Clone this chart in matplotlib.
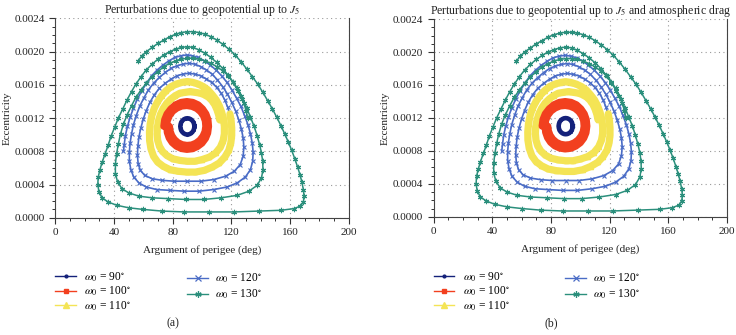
import numpy as np
import matplotlib
matplotlib.use('Agg')
import matplotlib.pyplot as plt
from matplotlib.lines import Line2D
from matplotlib.ticker import MultipleLocator

plt.rcParams['font.family'] = ['Liberation Serif', 'DejaVu Serif']
plt.rcParams['mathtext.fontset'] = 'stix'

# Trayectorias (argumento del perigeo en grados, excentricidad)
w90_arg = [94.8, 94.6, 94.2, 93.4, 92.4, 91.2, 90.0, 88.8, 87.6, 86.6, 85.8, 85.4, 85.2,
           85.4, 85.8, 86.6, 87.6, 88.8, 90.0, 91.2, 92.4, 93.4, 94.2, 94.6, 94.8]
w90_ecc = [0.00110, 0.001125, 0.001149, 0.001169, 0.001185, 0.001195, 0.001198, 0.001195,
           0.001185, 0.001169, 0.001149, 0.001125, 0.00110, 0.001075, 0.001051, 0.001031,
           0.001015, 0.001005, 0.001002, 0.001005, 0.001015, 0.001031, 0.001051, 0.001075,
           0.00110]

w100_arg = [73.9, 74.5, 76.1, 78.7, 81.9, 85.7, 89.7, 93.7, 97.4, 100.4, 102.7, 104.1, 104.5,
            103.9, 102.4, 100.0, 96.9, 93.5, 89.7, 86.0, 82.6, 79.7, 77.6, 76.3, 75.9,
            76.4, 77.8, 80.0, 82.9, 86.2, 89.7, 93.2, 96.4, 99.0, 101.0, 102.2, 102.5,
            102.0, 100.6, 98.5, 95.9, 92.9, 89.7, 86.5, 83.6, 81.2, 79.4, 78.3, 77.9]
w100_ecc = [0.00110, 0.00118, 0.00125, 0.00131, 0.00136, 0.00139, 0.00140, 0.00139, 0.00136,
            0.00131, 0.00125, 0.00118, 0.00110, 0.00102, 0.000955, 0.000898, 0.000857,
            0.00083, 0.000822, 0.000832, 0.00086, 0.000904, 0.00096, 0.001026, 0.00110,
            0.001168, 0.00123, 0.001282, 0.00132, 0.001344, 0.00135, 0.00134, 0.001315,
            0.001276, 0.001225, 0.001165, 0.00110, 0.001038, 0.000982, 0.000934, 0.000899,
            0.000877, 0.000872, 0.000881, 0.000905, 0.000943, 0.00099, 0.001044, 0.00110]

w110_arg = [112, 111.3, 110.2, 108.7, 106.8, 104.5, 101.8, 98.8, 95.5, 92, 88.5, 85, 81.8,
            78.8, 76, 73.7, 71.8, 70.4, 69.6, 69.4, 69.8, 71, 73, 76, 80, 85, 90, 95, 100,
            105, 109.3, 112.5, 114.4, 115.2, 115.2, 114.6, 113.4, 111.7, 109.6, 107, 104,
            100.8, 97.3, 93.7, 90, 86.3, 82.6, 79, 75.6, 72.5, 69.8, 67.5, 65.8, 64.7, 64.2,
            64.3, 65.2, 67, 69.8, 73.5, 78, 83.5, 89.5, 95.5, 101.5, 107, 111.8, 115.5,
            118.2, 119.6, 120.2, 120.2, 119.8, 119]
w110_ecc = [0.00118, 0.00124, 0.00130, 0.00136, 0.00141, 0.00145, 0.00148, 0.00150, 0.00151,
            0.00152, 0.00151, 0.00150, 0.00147, 0.00143, 0.00138, 0.00132, 0.00125, 0.00117,
            0.00109, 0.00101, 0.00093, 0.00086, 0.00080, 0.00075, 0.00071, 0.00069, 0.00068,
            0.00068, 0.00070, 0.00073, 0.00078, 0.00085, 0.00093, 0.00101, 0.00110, 0.00119,
            0.00127, 0.00135, 0.00142, 0.00148, 0.00154, 0.00158, 0.00161, 0.00163, 0.00164,
            0.00163, 0.00161, 0.00158, 0.00153, 0.00147, 0.00140, 0.00132, 0.00123, 0.00113,
            0.00103, 0.00093, 0.00083, 0.00074, 0.00067, 0.00062, 0.00058, 0.00056, 0.00055,
            0.00055, 0.00057, 0.00061, 0.00066, 0.00073, 0.00081, 0.00090, 0.00099, 0.00108,
            0.00117, 0.00125]

w120_arg = [120, 119, 117.5, 115.5, 113, 110, 106.5, 103, 99, 95, 91, 87, 83, 79, 75, 71,
            67.5, 64.5, 62, 60, 58.3, 57, 56.3, 56, 56.5, 58, 61, 66, 73, 81, 90, 99, 108,
            116, 122, 126, 128, 128.5, 128, 126.8, 125, 122.8, 120.2, 117.3, 114, 110.5,
            106.8, 103, 99, 95, 91, 87, 83, 79, 75, 71, 67, 63.5, 60.3, 57.5, 55.2, 53.3,
            52, 51, 50.5, 50.5, 51.5, 53.5, 57, 62, 69, 78, 88, 98, 108, 117, 124, 129.5,
            133, 134.5, 134.8, 134.2, 133, 131.3, 129, 126.5, 123.5, 120.3, 117, 113.3,
            109.5, 105.5, 101.5, 97.5, 93.5, 89.5, 85.5, 81.5, 77.5, 73.5, 69.5, 65.7, 62.2,
            59, 56, 53.3, 51, 49.2, 47.8, 47, 46.5]
w120_ecc = [0.00115, 0.00124, 0.00133, 0.00142, 0.00150, 0.00157, 0.00163, 0.00167, 0.00171,
            0.00173, 0.00174, 0.00173, 0.00171, 0.00167, 0.00162, 0.00156, 0.00148, 0.00139,
            0.00129, 0.00119, 0.00108, 0.00097, 0.00086, 0.00075, 0.00065, 0.00057, 0.00051,
            0.00047, 0.00045, 0.00044, 0.00044, 0.00044, 0.00046, 0.00050, 0.00056, 0.00064,
            0.00074, 0.00085, 0.00096, 0.00107, 0.00118, 0.00129, 0.00139, 0.00149, 0.00158,
            0.00166, 0.00173, 0.00178, 0.00182, 0.00185, 0.00186, 0.00185, 0.00183, 0.00180,
            0.00175, 0.00169, 0.00162, 0.00154, 0.00144, 0.00134, 0.00123, 0.00112, 0.00101,
            0.00090, 0.00079, 0.00068, 0.00058, 0.00049, 0.00042, 0.00037, 0.00034, 0.00033,
            0.00032, 0.00032, 0.00034, 0.00037, 0.00042, 0.00049, 0.00058, 0.00068, 0.00079,
            0.00090, 0.00101, 0.00112, 0.00123, 0.00134, 0.00144, 0.00154, 0.00163, 0.00171,
            0.00178, 0.00184, 0.00189, 0.00193, 0.00195, 0.00196, 0.00195, 0.00193, 0.00189,
            0.00184, 0.00178, 0.00171, 0.00162, 0.00153, 0.00143, 0.00132, 0.00121, 0.00110,
            0.00099, 0.00088, 0.00080]

w130_arg = [131, 130, 128.5, 126.5, 124, 121, 118, 114, 110, 106, 102, 98, 94, 90, 86, 82,
            78, 74, 70, 66, 62, 58.5, 55, 52, 49, 46.5, 44.5, 43, 41.8, 41, 41, 42.5, 45.5,
            50, 57, 66, 77, 89, 101, 113, 124, 132, 137.5, 140.5, 141.5, 141.3, 140.5,
            139.2, 137.5, 135.5, 133, 130.5, 127.5, 124.5, 121, 117.5, 114, 110, 106, 102,
            98, 94, 90, 86, 82, 78, 74, 70, 66, 62, 58.5, 55, 52, 49, 46, 43, 40.5, 38, 36,
            34, 32, 30.5, 29.3, 29, 29.8, 32, 36, 42, 50, 60, 73, 88, 105, 122, 139, 154,
            162.5, 167, 169, 169.5, 169, 168, 166.7, 165.1, 163.2, 161.1, 158.8, 156.3,
            153.7, 150.9, 147.9, 144.7, 141.4, 137.9, 134.2, 130.5, 126.5, 122.5, 118.3, 114,
            110, 106, 102, 98, 94, 90, 86, 82, 78, 74, 70, 66, 62, 59, 56.5]
w130_ecc = [0.00120, 0.00129, 0.00138, 0.00147, 0.00156, 0.00164, 0.00171, 0.00177, 0.00182,
            0.00186, 0.00189, 0.00191, 0.00192, 0.00192, 0.00191, 0.00189, 0.00186, 0.00182,
            0.00176, 0.00170, 0.00162, 0.00154, 0.00145, 0.00135, 0.00124, 0.00113, 0.00101,
            0.00089, 0.00077, 0.00065, 0.00053, 0.00043, 0.00035, 0.00030, 0.00026, 0.00024,
            0.00023, 0.00022, 0.00022, 0.00024, 0.00027, 0.00032, 0.00039, 0.00048, 0.00058,
            0.00068, 0.00078, 0.00088, 0.00099, 0.00110, 0.00121, 0.00132, 0.00143, 0.00153,
            0.00163, 0.00172, 0.00180, 0.00187, 0.00193, 0.00198, 0.00202, 0.00205, 0.00206,
            0.00205, 0.00203, 0.00200, 0.00196, 0.00191, 0.00185, 0.00178, 0.00170, 0.00161,
            0.00152, 0.00142, 0.00131, 0.00120, 0.00109, 0.00098, 0.00087, 0.00077, 0.00067,
            0.00058, 0.00049, 0.00040, 0.00031, 0.00024, 0.00019, 0.00015, 0.00012, 0.00010,
            0.00008, 0.00007, 0.00007, 0.00007, 0.00008, 0.00009, 0.00011, 0.00014, 0.00019,
            0.00026, 0.00034, 0.00043, 0.00052, 0.00061, 0.00071, 0.00081, 0.00091, 0.00101,
            0.00111, 0.00121, 0.00131, 0.00141, 0.00151, 0.00161, 0.00170, 0.00179, 0.00188,
            0.00196, 0.00203, 0.00209, 0.00214, 0.00218, 0.00221, 0.00223, 0.00224, 0.00224,
            0.00223, 0.00221, 0.00218, 0.00214, 0.00210, 0.00205, 0.00200, 0.00195, 0.00189]

etiquetas = ['$\\omega_0$ = 90$^{\\circ}$', '$\\omega_0$ = 100$^{\\circ}$',
             '$\\omega_0$ = 110$^{\\circ}$', '$\\omega_0$ = 120$^{\\circ}$',
             '$\\omega_0$ = 130$^{\\circ}$']
titulos = ['Perturbations due to geopotential up to $J_5$',
           'Perturbations due to geopotential up to $J_5$ and atmospheric drag']
paneles = ['(a)', '(b)']

c_navy, c_rojo, c_amar, c_azul, c_verde = '#14217a', '#f2401f', '#f4e455', '#4a6cc6', '#2b8f7c'
asterisco = (6, 2, 0)

fig = plt.figure(figsize=(7.36, 3.35), dpi=100)
ejes = [fig.add_axes([0.075, 0.350, 0.399, 0.595]),
        fig.add_axes([0.589, 0.353, 0.399, 0.590])]

for k, ax in enumerate(ejes):
    ax.plot(w120_arg, w120_ecc, color=c_azul, lw=1.2, marker='x', ms=3.2, mew=0.8)
    ax.plot(w130_arg, w130_ecc, color=c_verde, lw=1.1, marker=asterisco, ms=3.8, mew=0.8)
    ax.plot(w110_arg, w110_ecc, color=c_amar, lw=5.2, marker='^', ms=3,
            solid_capstyle='round', solid_joinstyle='round')
    ax.plot(w100_arg, w100_ecc, color=c_rojo, lw=5.0, marker='s', ms=2,
            solid_capstyle='round', solid_joinstyle='round')
    ax.plot(w90_arg, w90_ecc, color=c_navy, lw=3.3, marker='.', ms=2.5,
            solid_joinstyle='round')

    ax.set_xlim(0, 200)
    ax.set_ylim(0, 0.0024)
    ax.set_xticks(np.arange(0, 201, 40))
    ax.set_yticks(np.arange(0, 0.00241, 0.0004))
    ax.set_yticklabels(['%.4f' % v for v in np.arange(0, 0.00241, 0.0004)])
    ax.xaxis.set_minor_locator(MultipleLocator(10))
    ax.yaxis.set_minor_locator(MultipleLocator(0.0001))
    ax.tick_params(which='major', direction='out', length=4, width=0.8,
                   labelsize=8, colors='#333333', labelcolor='#222222')
    ax.tick_params(which='minor', direction='out', length=2.5, width=0.7, colors='#333333')
    ax.tick_params(top=False, right=False, which='both')
    ax.grid(True, which='major', ls=(0, (1, 3)), color='#999999', lw=0.8)
    ax.spines['top'].set_visible(False)
    for s in ['left', 'bottom', 'right']:
        ax.spines[s].set_color('#444444')
        ax.spines[s].set_linewidth(0.8)
    ax.set_title(titulos[k], fontsize=8.5, pad=4, color='#222222')
    ax.set_xlabel('Argument of perigee (deg)', fontsize=8, labelpad=6, color='#222222')
    ax.set_ylabel('Eccentricity', fontsize=8, labelpad=2, color='#222222')

    manijas = [
        Line2D([], [], color=c_navy, lw=1, marker='.', ms=4),
        Line2D([], [], color=c_rojo, lw=1, marker='s', ms=3),
        Line2D([], [], color=c_amar, lw=1, marker='^', ms=4),
        Line2D([], [], color=c_azul, lw=1, marker='x', ms=4, mew=0.9),
        Line2D([], [], color=c_verde, lw=1, marker=asterisco, ms=4.5, mew=0.9),
    ]
    pos = ax.get_position()
    fig.legend(manijas[:3], etiquetas[:3], loc='upper left',
               bbox_to_anchor=(pos.x0 - 0.006, 0.207), frameon=False, fontsize=8.3,
               handlelength=1.8, labelspacing=0.08, handletextpad=0.7, borderpad=0.4,
               borderaxespad=0)
    fig.legend(manijas[3:], etiquetas[3:], loc='upper left',
               bbox_to_anchor=(pos.x0 + 0.173, 0.202), frameon=False, fontsize=8.3,
               handlelength=1.8, labelspacing=0.22, handletextpad=0.6, borderpad=0.4,
               borderaxespad=0)
    fig.text(pos.x0 + pos.width * 0.4, 0.025, paneles[k], fontsize=8.5,
             ha='center', color='#222222')

fig.savefig('out.png', dpi=100)
plt.close()
